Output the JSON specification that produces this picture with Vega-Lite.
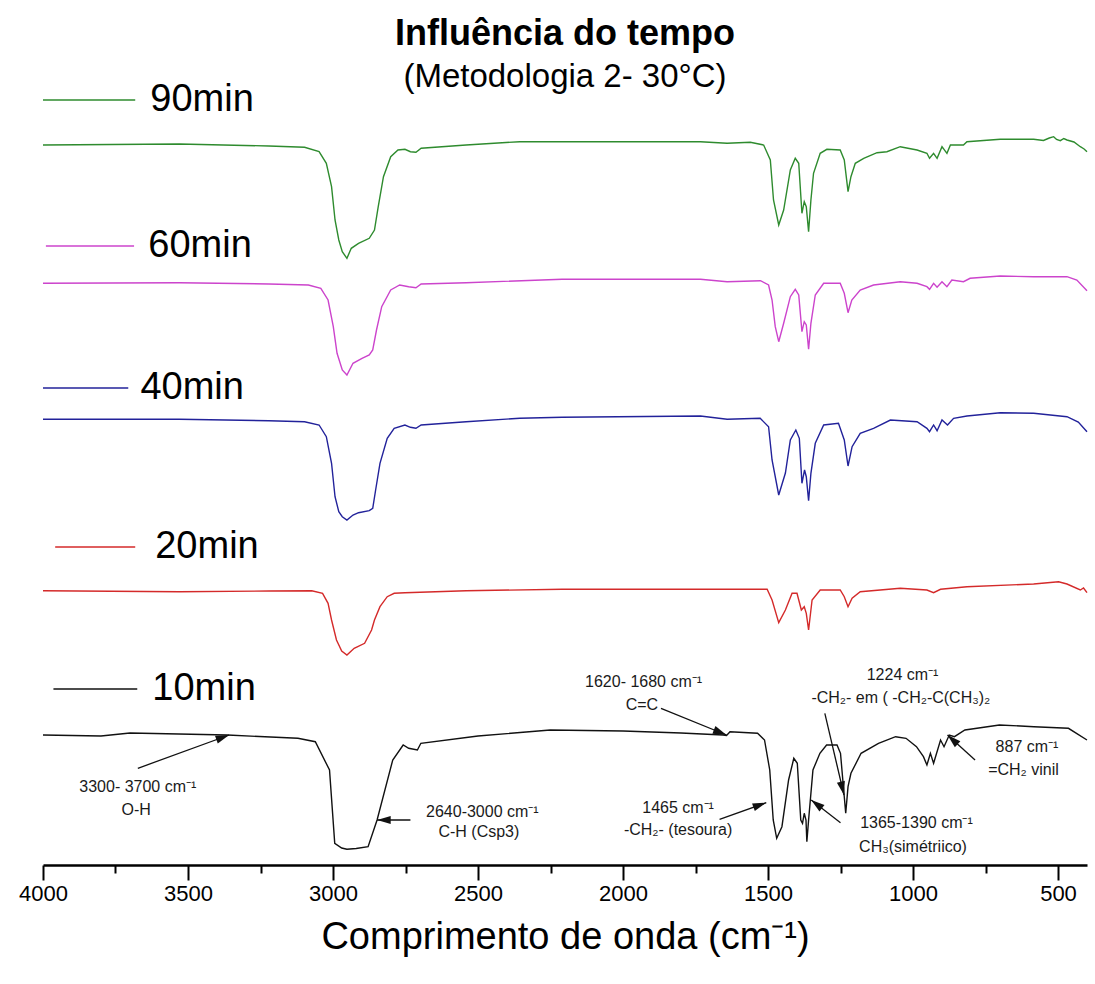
{
  "$schema": "https://vega.github.io/schema/vega-lite/v6.json",
  "width": 1044,
  "height": 755,
  "autosize": {"type": "none"},
  "padding": {"left": 43, "top": 110, "right": 8, "bottom": 119},
  "config": {"view": {"stroke": null}, "font": "Liberation Sans"},
  "title": {
    "text": "Influência do tempo",
    "subtitle": "(Metodologia 2- 30°C)",
    "font": "Liberation Sans",
    "fontSize": 36,
    "fontWeight": "bold",
    "color": "black",
    "subtitleFont": "Liberation Sans",
    "subtitleFontSize": 33,
    "subtitleColor": "black",
    "subtitlePadding": 8,
    "anchor": "middle",
    "offset": -14
  },
  "datasets": {
    "spectra": [
      {"s":"10min","w":4000,"T":130},{"s":"10min","w":3800,"T":129},{"s":"10min","w":3700,"T":132},{"s":"10min","w":3364,"T":130},{"s":"10min","w":3121,"T":126.7},{"s":"10min","w":3061,"T":123.3},{"s":"10min","w":3012,"T":95},{"s":"10min","w":2994,"T":21.7},{"s":"10min","w":2970,"T":17},{"s":"10min","w":2952,"T":15.7},{"s":"10min","w":2920,"T":16.5},{"s":"10min","w":2879,"T":18.3},{"s":"10min","w":2848,"T":45},{"s":"10min","w":2794,"T":105},{"s":"10min","w":2758,"T":120},{"s":"10min","w":2739,"T":116.7},{"s":"10min","w":2709,"T":115},{"s":"10min","w":2697,"T":121.7},{"s":"10min","w":2500,"T":129},{"s":"10min","w":2251,"T":135},{"s":"10min","w":2000,"T":134},{"s":"10min","w":1800,"T":132},{"s":"10min","w":1655,"T":130},{"s":"10min","w":1643,"T":129.5},{"s":"10min","w":1631,"T":133.3},{"s":"10min","w":1536,"T":131.7},{"s":"10min","w":1512,"T":125},{"s":"10min","w":1494,"T":95},{"s":"10min","w":1482,"T":45},{"s":"10min","w":1470,"T":26.7},{"s":"10min","w":1452,"T":38.3},{"s":"10min","w":1429,"T":85},{"s":"10min","w":1411,"T":106.7},{"s":"10min","w":1399,"T":101.7},{"s":"10min","w":1387,"T":45},{"s":"10min","w":1381,"T":41.7},{"s":"10min","w":1375,"T":51.7},{"s":"10min","w":1369,"T":45},{"s":"10min","w":1366,"T":23.3},{"s":"10min","w":1360,"T":45},{"s":"10min","w":1345,"T":95},{"s":"10min","w":1321,"T":111.7},{"s":"10min","w":1298,"T":120},{"s":"10min","w":1262,"T":120},{"s":"10min","w":1250,"T":111.7},{"s":"10min","w":1240,"T":78.3},{"s":"10min","w":1232,"T":51.7},{"s":"10min","w":1224,"T":78.3},{"s":"10min","w":1214,"T":91.7},{"s":"10min","w":1179,"T":111.7},{"s":"10min","w":1119,"T":121.7},{"s":"10min","w":1060,"T":128.3},{"s":"10min","w":1024,"T":126.7},{"s":"10min","w":988,"T":118.3},{"s":"10min","w":964,"T":108.3},{"s":"10min","w":952,"T":100},{"s":"10min","w":940,"T":111.7},{"s":"10min","w":929,"T":101.7},{"s":"10min","w":905,"T":125},{"s":"10min","w":893,"T":118.3},{"s":"10min","w":875,"T":130},{"s":"10min","w":857,"T":128.3},{"s":"10min","w":821,"T":135},{"s":"10min","w":702,"T":140},{"s":"10min","w":583,"T":138.3},{"s":"10min","w":464,"T":136.7},{"s":"10min","w":400,"T":125},

      {"s":"90min","w":4000,"T":720},{"s":"90min","w":3530,"T":721},{"s":"90min","w":3221,"T":719},{"s":"90min","w":3098,"T":717.7},{"s":"90min","w":3048,"T":713.3},{"s":"90min","w":3023,"T":701.7},{"s":"90min","w":3005,"T":678.3},{"s":"90min","w":2993,"T":645},{"s":"90min","w":2980,"T":625},{"s":"90min","w":2968,"T":613.3},{"s":"90min","w":2952,"T":606.7},{"s":"90min","w":2937,"T":616.7},{"s":"90min","w":2912,"T":621.7},{"s":"90min","w":2875,"T":626.7},{"s":"90min","w":2857,"T":635},{"s":"90min","w":2844,"T":658.3},{"s":"90min","w":2826,"T":688.3},{"s":"90min","w":2801,"T":708.3},{"s":"90min","w":2776,"T":715},{"s":"90min","w":2752,"T":715.7},{"s":"90min","w":2733,"T":713.3},{"s":"90min","w":2714,"T":712.7},{"s":"90min","w":2696,"T":716.7},{"s":"90min","w":2541,"T":720},{"s":"90min","w":2356,"T":723.3},{"s":"90min","w":2210,"T":723.3},{"s":"90min","w":1733,"T":723.3},{"s":"90min","w":1641,"T":721.7},{"s":"90min","w":1561,"T":722.7},{"s":"90min","w":1515,"T":720},{"s":"90min","w":1492,"T":705},{"s":"90min","w":1481,"T":665},{"s":"90min","w":1463,"T":640},{"s":"90min","w":1446,"T":655},{"s":"90min","w":1423,"T":695},{"s":"90min","w":1406,"T":706.7},{"s":"90min","w":1394,"T":701.7},{"s":"90min","w":1383,"T":651.7},{"s":"90min","w":1375,"T":663.3},{"s":"90min","w":1368,"T":658.3},{"s":"90min","w":1360,"T":633.3},{"s":"90min","w":1352,"T":665},{"s":"90min","w":1343,"T":691.7},{"s":"90min","w":1320,"T":711.7},{"s":"90min","w":1297,"T":715.7},{"s":"90min","w":1251,"T":715},{"s":"90min","w":1237,"T":705},{"s":"90min","w":1224,"T":673.3},{"s":"90min","w":1214,"T":688.3},{"s":"90min","w":1199,"T":701.7},{"s":"90min","w":1170,"T":706.7},{"s":"90min","w":1124,"T":712.3},{"s":"90min","w":1090,"T":713.3},{"s":"90min","w":1044,"T":718.3},{"s":"90min","w":986,"T":715},{"s":"90min","w":952,"T":711.7},{"s":"90min","w":943,"T":706.7},{"s":"90min","w":929,"T":711.7},{"s":"90min","w":917,"T":706.7},{"s":"90min","w":900,"T":718.3},{"s":"90min","w":883,"T":711.7},{"s":"90min","w":871,"T":720},{"s":"90min","w":826,"T":720},{"s":"90min","w":814,"T":723.3},{"s":"90min","w":699,"T":725.7},{"s":"90min","w":584,"T":725.7},{"s":"90min","w":550,"T":724.5},{"s":"90min","w":530,"T":727},{"s":"90min","w":515,"T":728.3},{"s":"90min","w":505,"T":725.5},{"s":"90min","w":492,"T":724.3},{"s":"90min","w":480,"T":726.5},{"s":"90min","w":469,"T":725},{"s":"90min","w":445,"T":723},{"s":"90min","w":423,"T":718.3},{"s":"90min","w":410,"T":716},{"s":"90min","w":400,"T":713.3},

      {"s":"60min","w":4000,"T":581.7},{"s":"60min","w":3530,"T":582.3},{"s":"60min","w":3221,"T":581},{"s":"60min","w":3085,"T":580},{"s":"60min","w":3042,"T":576.7},{"s":"60min","w":3017,"T":565},{"s":"60min","w":2999,"T":538.3},{"s":"60min","w":2986,"T":511.7},{"s":"60min","w":2968,"T":495},{"s":"60min","w":2952,"T":490},{"s":"60min","w":2931,"T":501.7},{"s":"60min","w":2900,"T":506.7},{"s":"60min","w":2875,"T":510},{"s":"60min","w":2863,"T":515},{"s":"60min","w":2850,"T":535},{"s":"60min","w":2832,"T":558.3},{"s":"60min","w":2801,"T":575},{"s":"60min","w":2770,"T":580},{"s":"60min","w":2739,"T":578.3},{"s":"60min","w":2714,"T":577.3},{"s":"60min","w":2696,"T":581},{"s":"60min","w":2541,"T":582.3},{"s":"60min","w":2210,"T":585.7},{"s":"60min","w":1733,"T":585.7},{"s":"60min","w":1641,"T":583.3},{"s":"60min","w":1526,"T":584.3},{"s":"60min","w":1498,"T":580},{"s":"60min","w":1486,"T":565},{"s":"60min","w":1475,"T":538.3},{"s":"60min","w":1463,"T":523.3},{"s":"60min","w":1446,"T":541.7},{"s":"60min","w":1423,"T":568.3},{"s":"60min","w":1406,"T":575.7},{"s":"60min","w":1394,"T":570},{"s":"60min","w":1383,"T":533.3},{"s":"60min","w":1375,"T":543.3},{"s":"60min","w":1368,"T":540},{"s":"60min","w":1360,"T":515.7},{"s":"60min","w":1352,"T":541.7},{"s":"60min","w":1337,"T":570},{"s":"60min","w":1308,"T":581.7},{"s":"60min","w":1251,"T":581.7},{"s":"60min","w":1237,"T":571.7},{"s":"60min","w":1224,"T":552.3},{"s":"60min","w":1211,"T":565},{"s":"60min","w":1182,"T":575},{"s":"60min","w":1136,"T":580},{"s":"60min","w":1044,"T":583.3},{"s":"60min","w":986,"T":581.7},{"s":"60min","w":952,"T":578.3},{"s":"60min","w":943,"T":575.7},{"s":"60min","w":929,"T":581.7},{"s":"60min","w":917,"T":577.7},{"s":"60min","w":900,"T":583.3},{"s":"60min","w":883,"T":578.3},{"s":"60min","w":866,"T":585},{"s":"60min","w":826,"T":583.3},{"s":"60min","w":803,"T":586.7},{"s":"60min","w":699,"T":589},{"s":"60min","w":584,"T":588.3},{"s":"60min","w":469,"T":588.3},{"s":"60min","w":435,"T":585},{"s":"60min","w":400,"T":574.3},

      {"s":"40min","w":4000,"T":445.7},{"s":"40min","w":3530,"T":445.7},{"s":"40min","w":3221,"T":444.3},{"s":"40min","w":3098,"T":443.3},{"s":"40min","w":3048,"T":440},{"s":"40min","w":3023,"T":428.3},{"s":"40min","w":3005,"T":401.7},{"s":"40min","w":2993,"T":368.3},{"s":"40min","w":2980,"T":353.3},{"s":"40min","w":2968,"T":348.3},{"s":"40min","w":2952,"T":345},{"s":"40min","w":2931,"T":350},{"s":"40min","w":2912,"T":352.3},{"s":"40min","w":2875,"T":354.3},{"s":"40min","w":2863,"T":356.7},{"s":"40min","w":2853,"T":375},{"s":"40min","w":2838,"T":401.7},{"s":"40min","w":2813,"T":426.7},{"s":"40min","w":2789,"T":436.7},{"s":"40min","w":2752,"T":440},{"s":"40min","w":2733,"T":437.7},{"s":"40min","w":2714,"T":436.7},{"s":"40min","w":2696,"T":440},{"s":"40min","w":2541,"T":443.3},{"s":"40min","w":2356,"T":446.7},{"s":"40min","w":2210,"T":447.7},{"s":"40min","w":1733,"T":449},{"s":"40min","w":1641,"T":445.7},{"s":"40min","w":1527,"T":446.7},{"s":"40min","w":1498,"T":438.3},{"s":"40min","w":1486,"T":405},{"s":"40min","w":1463,"T":370},{"s":"40min","w":1440,"T":392},{"s":"40min","w":1423,"T":425},{"s":"40min","w":1404,"T":435},{"s":"40min","w":1392,"T":426.7},{"s":"40min","w":1383,"T":381.7},{"s":"40min","w":1374,"T":395},{"s":"40min","w":1368,"T":388.3},{"s":"40min","w":1360,"T":364.3},{"s":"40min","w":1352,"T":391.7},{"s":"40min","w":1337,"T":421.7},{"s":"40min","w":1308,"T":440},{"s":"40min","w":1257,"T":441.7},{"s":"40min","w":1237,"T":425},{"s":"40min","w":1224,"T":399},{"s":"40min","w":1210,"T":418.3},{"s":"40min","w":1182,"T":431.7},{"s":"40min","w":1136,"T":436.7},{"s":"40min","w":1078,"T":445},{"s":"40min","w":986,"T":443.3},{"s":"40min","w":952,"T":436.7},{"s":"40min","w":943,"T":433.3},{"s":"40min","w":929,"T":440},{"s":"40min","w":917,"T":434.3},{"s":"40min","w":900,"T":445},{"s":"40min","w":881,"T":440},{"s":"40min","w":860,"T":446.7},{"s":"40min","w":814,"T":449},{"s":"40min","w":699,"T":452.3},{"s":"40min","w":584,"T":451.7},{"s":"40min","w":469,"T":448.3},{"s":"40min","w":430,"T":443},{"s":"40min","w":400,"T":433.3},

      {"s":"20min","w":4000,"T":274.3},{"s":"20min","w":3530,"T":273.3},{"s":"20min","w":3221,"T":274},{"s":"20min","w":3073,"T":274.3},{"s":"20min","w":3036,"T":271.7},{"s":"20min","w":3017,"T":261.7},{"s":"20min","w":3005,"T":245},{"s":"20min","w":2988,"T":225},{"s":"20min","w":2970,"T":214},{"s":"20min","w":2952,"T":210},{"s":"20min","w":2927,"T":216.7},{"s":"20min","w":2891,"T":221.7},{"s":"20min","w":2867,"T":235},{"s":"20min","w":2857,"T":245},{"s":"20min","w":2838,"T":258.3},{"s":"20min","w":2813,"T":268.3},{"s":"20min","w":2789,"T":271.7},{"s":"20min","w":2752,"T":272.3},{"s":"20min","w":2541,"T":274.3},{"s":"20min","w":2210,"T":275.7},{"s":"20min","w":1733,"T":275.7},{"s":"20min","w":1503,"T":275.7},{"s":"20min","w":1486,"T":265},{"s":"20min","w":1463,"T":242.3},{"s":"20min","w":1440,"T":255},{"s":"20min","w":1417,"T":271.7},{"s":"20min","w":1400,"T":271.7},{"s":"20min","w":1385,"T":255},{"s":"20min","w":1375,"T":258.3},{"s":"20min","w":1368,"T":251.7},{"s":"20min","w":1360,"T":235},{"s":"20min","w":1348,"T":265},{"s":"20min","w":1320,"T":275},{"s":"20min","w":1251,"T":275},{"s":"20min","w":1237,"T":268.3},{"s":"20min","w":1224,"T":258.3},{"s":"20min","w":1210,"T":266.7},{"s":"20min","w":1182,"T":273.3},{"s":"20min","w":1044,"T":276.7},{"s":"20min","w":952,"T":275},{"s":"20min","w":929,"T":272.3},{"s":"20min","w":905,"T":275.7},{"s":"20min","w":814,"T":278.3},{"s":"20min","w":584,"T":281},{"s":"20min","w":498,"T":283.3},{"s":"20min","w":469,"T":281},{"s":"20min","w":423,"T":275},{"s":"20min","w":412,"T":277},{"s":"20min","w":400,"T":272.3}
    ],
    "legend": [
      {"s":"90min","w1":4000,"w2":3682,"wt":3630,"T":765},
      {"s":"60min","w1":3990,"w2":3686,"wt":3637,"T":619},
      {"s":"40min","w1":4000,"w2":3706,"wt":3664,"T":477},
      {"s":"20min","w1":3958,"w2":3682,"wt":3613,"T":318},
      {"s":"10min","w1":3964,"w2":3675,"wt":3623,"T":176}
    ],
    "arrows": [
      {"x0":3673,"y0":96.7,"x1":3358,"y1":130},
      {"x0":2733,"y0":45,"x1":2848,"y1":45},
      {"x0":1869,"y0":156.7,"x1":1643,"y1":130},
      {"x0":1667,"y0":45.7,"x1":1506,"y1":62.3},
      {"x0":1250,"y0":42.3,"x1":1351,"y1":65},
      {"x0":1304,"y0":151.7,"x1":1238,"y1":70},
      {"x0":786,"y0":105,"x1":881,"y1":130}
    ],
    "notes": [
      {"w":3673,"T":78.3,"t":"3300- 3700 cm⁻¹"},
      {"w":3679,"T":55,"t":"O-H"},
      {"w":2485,"T":53.3,"t":"2640-3000 cm⁻¹"},
      {"w":2497,"T":33.3,"t":"C-H (Csp3)"},
      {"w":1929,"T":183.3,"t":"1620- 1680 cm⁻¹"},
      {"w":1935,"T":160,"t":"C=C"},
      {"w":1810,"T":56.7,"t":"1465 cm⁻¹"},
      {"w":1810,"T":35,"t":"-CH₂- (tesoura)"},
      {"w":988,"T":42.3,"t":"1365-1390 cm⁻¹"},
      {"w":1000,"T":18.3,"t":"CH₃(simétriico)"},
      {"w":1036,"T":190,"t":"1224 cm⁻¹"},
      {"w":1042,"T":166.7,"t":"-CH₂- em ( -CH₂-C(CH₃)₂"},
      {"w":607,"T":118.3,"t":"887 cm⁻¹"},
      {"w":619,"T":95,"t":"=CH₂  vinil"}
    ]
  },
  "layer": [
    {
      "data": {"name": "spectra"},
      "mark": {"type": "line", "strokeWidth": 1.4, "clip": false},
      "encoding": {
        "x": {
          "field": "w", "type": "quantitative",
          "scale": {"domain": [4000, 400], "nice": false, "zero": false},
          "axis": {
            "values": [4000,3750,3500,3250,3000,2750,2500,2250,2000,1750,1500,1250,1000,750,500],
            "format": "d",
            "labelExpr": "datum.value % 500 === 0 ? datum.label : ''",
            "tickSize": {"condition": {"test": "datum.value % 500 === 0", "value": 15}, "value": 8},
            "tickWidth": 2,
            "tickColor": "black",
            "domainColor": "black",
            "domainWidth": 2.5,
            "labelFont": "Liberation Sans",
            "labelFontSize": 22,
            "labelColor": "black",
            "labelPadding": 3,
            "labelFlush": false,
            "labelOverlap": false,
            "grid": false,
            "title": "Comprimento de onda (cm⁻¹)",
            "titleFont": "Liberation Sans",
            "titleFontSize": 38,
            "titleFontWeight": "normal",
            "titleColor": "black",
            "titlePadding": 14
          }
        },
        "y": {
          "field": "T", "type": "quantitative",
          "scale": {"domain": [0, 755], "nice": false, "zero": false},
          "axis": null
        },
        "color": {
          "field": "s", "type": "nominal",
          "scale": {"domain": ["90min","60min","40min","20min","10min"], "range": ["#2e8b2e","#cc44cc","#22229a","#d42a2a","#111111"]},
          "legend": null
        },
        "detail": {"field": "s"}
      }
    },
    {
      "data": {"name": "legend"},
      "mark": {"type": "rule", "strokeWidth": 1.4, "clip": false},
      "encoding": {
        "x": {"field": "w1", "type": "quantitative"},
        "x2": {"field": "w2"},
        "y": {"field": "T", "type": "quantitative"},
        "color": {"field": "s", "type": "nominal", "legend": null}
      }
    },
    {
      "data": {"name": "legend"},
      "mark": {"type": "text", "align": "left", "baseline": "middle", "fontSize": 38, "font": "Liberation Sans", "color": "black", "clip": false},
      "encoding": {
        "x": {"field": "wt", "type": "quantitative"},
        "y": {"field": "T", "type": "quantitative"},
        "text": {"field": "s"}
      }
    },
    {
      "data": {"name": "arrows"},
      "mark": {"type": "rule", "strokeWidth": 1.3, "color": "#111111", "clip": false},
      "encoding": {
        "x": {"field": "x0", "type": "quantitative"},
        "x2": {"field": "x1"},
        "y": {"field": "y0", "type": "quantitative"},
        "y2": {"field": "y1"}
      }
    },
    {
      "data": {"name": "arrows"},
      "transform": [
        {"calculate": "atan2((datum.x0 - datum.x1) * 0.29, (datum.y1 - datum.y0)) * 180 / PI", "as": "ang"}
      ],
      "mark": {"type": "point", "shape": "M0,0L0.45,1.5L-0.45,1.5Z", "filled": true, "color": "#111111", "size": 330, "opacity": 1, "clip": false},
      "encoding": {
        "x": {"field": "x1", "type": "quantitative"},
        "y": {"field": "y1", "type": "quantitative"},
        "angle": {"field": "ang", "type": "quantitative", "scale": null}
      }
    },
    {
      "data": {"name": "notes"},
      "mark": {"type": "text", "align": "center", "baseline": "middle", "fontSize": 16, "font": "Liberation Sans", "color": "#1a1a1a", "clip": false},
      "encoding": {
        "x": {"field": "w", "type": "quantitative"},
        "y": {"field": "T", "type": "quantitative"},
        "text": {"field": "t"}
      }
    }
  ]
}
